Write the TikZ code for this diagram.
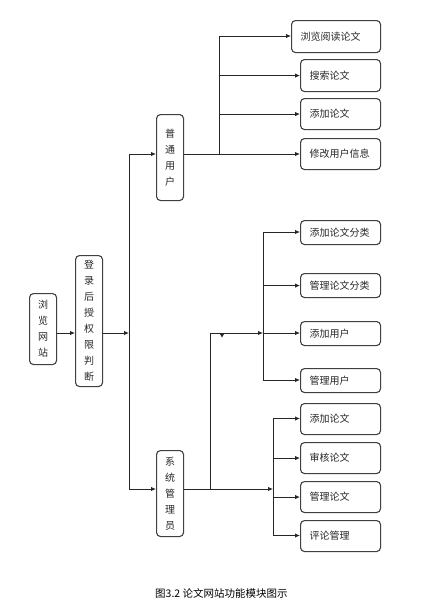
\documentclass[tikz,border=0pt]{standalone}
\usepackage{fontspec}
\setmainfont{Noto Sans CJK SC}
\usetikzlibrary{arrows.meta}
\begin{document}
\begin{tikzpicture}[x=1pt,y=-1pt,
  box/.style={draw=black!75, line width=1.1pt, rounded corners=4pt, inner sep=0pt, text=black!85},
  hbox/.style={box, anchor=north west, minimum height=#1, text width=62pt, inner xsep=9pt, align=left, font=\fontsize{10}{12}\selectfont},
  vbox/.style={box, anchor=north west, minimum width=27pt, text width=27pt, align=center, minimum height=#1, font=\fontsize{10}{16}\selectfont},
  ln/.style={draw=black!85, line width=0.9pt},
  arr/.style={ln, -{Latex[length=5pt,width=4.5pt]}}]
\useasboundingbox (0,0) rectangle (431,614);

% left column
\node[vbox=71pt] (web) at (29,293) {浏\\览\\网\\站};
\node[vbox=131pt] (login) at (75,255) {登\\录\\后\\授\\权\\限\\判\\断};
\node[vbox=86pt] (user) at (156,114) {普\\通\\用\\户};
\node[vbox=86pt] (admin) at (156,450) {系\\统\\管\\理\\员};

% user functions
\node[hbox=32pt, text width=71pt] (u1) at (291,20) {浏览阅读论文};
\node[hbox=32pt] (u2) at (300,59) {搜索论文};
\node[hbox=31pt] (u3) at (300,98) {添加论文};
\node[hbox=31pt] (u4) at (300,138) {修改用户信息};

% admin functions (upper)
\node[hbox=24pt] (a1) at (300,220) {添加论文分类};
\node[hbox=24pt] (a2) at (300,273) {管理论文分类};
\node[hbox=24pt] (a3) at (300,321) {添加用户};
\node[hbox=24pt] (a4) at (300,368) {管理用户};

% admin functions (lower)
\node[hbox=31pt] (b1) at (300,403) {添加论文};
\node[hbox=31pt] (b2) at (300,442) {审核论文};
\node[hbox=31pt] (b3) at (300,481) {管理论文};
\node[hbox=31pt] (b4) at (300,520) {评论管理};

% junction coordinates
\coordinate (mid) at (129,333);
\coordinate (top) at (129,154);
\coordinate (bot) at (129,489);
\coordinate (ub) at (219,154);
\coordinate (ubt) at (219,36);
\coordinate (ak) at (210,489);
\coordinate (al) at (210,333);
\coordinate (am) at (263,333);
\coordinate (amt) at (263,232);
\coordinate (amb) at (263,380);
\coordinate (aj) at (273,489);
\coordinate (ajt) at (273,418.5);
\coordinate (ajb) at (273,535.5);

% connectors
\draw[arr] (web.east |- mid) -- (login.west |- mid);
\draw[arr] (login.east |- mid) -- (mid);
\draw[ln] (top) -- (bot);
\draw[arr] (top) -- (user.west |- top);
\draw[arr] (bot) -- (admin.west |- bot);

\draw[ln] (user.east |- ub) -- (ub);
\draw[ln] (ubt) -- (ub);
\draw[arr] (ubt) -- (u1.west |- ubt);
\draw[arr] (ub |- u2.west) -- (u2.west);
\draw[arr] (ub |- u3.west) -- (u3.west);
\draw[arr] (ub) -- (u4.west |- ub);

\draw[arr] (admin.east |- bot) -- (aj);
\draw[ln] (ak) -- (al);
\draw[arr] (al) -- (am);
\fill[black!85] (219.5,333) -- (224.5,333) -- (222,337.5) -- cycle;
\draw[ln] (amt) -- (amb);
\draw[arr] (amt) -- (a1.west |- amt);
\draw[arr] (am |- a2.west) -- (a2.west);
\draw[arr] (am) -- (a3.west |- am);
\draw[arr] (amb) -- (a4.west |- amb);

\draw[ln] (ajt) -- (ajb);
\draw[arr] (ajt) -- (b1.west |- ajt);
\draw[arr] (aj |- b2.west) -- (b2.west);
\draw[arr] (aj |- b3.west) -- (b3.west);
\draw[arr] (ajb) -- (b4.west |- ajb);

% caption
\node[anchor=west, inner sep=0pt, font=\fontsize{10.5}{12}\selectfont] (cap) at (155,593) {图3.2 论文网站功能模块图示};
\end{tikzpicture}
\end{document}
